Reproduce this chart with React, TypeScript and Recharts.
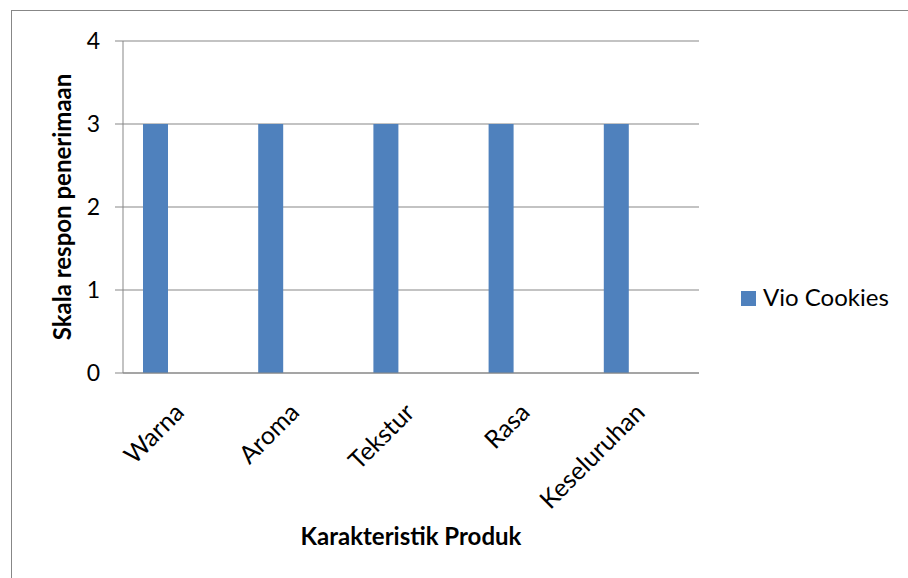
import React from "react";
import { BarChart, Bar, XAxis, YAxis, CartesianGrid, Customized } from "recharts";

// Acceptance scores per product characteristic
const categories = ["Warna", "Aroma", "Tekstur", "Rasa", "Keseluruhan"];
const vioCookies = [3, 3, 3, 3, 3];
// Second series slot of the clustered layout (no values)
const emptySeries: (number | null)[] = [null, null, null, null, null];
const yTicks = [0, 1, 2, 3, 4];

const seriesName = "Vio Cookies";
const xTitle = "Karakteristik Produk";
const yTitle = "Skala respon penerimaan";

const data = categories.map((c, i) => ({
  name: c,
  vio: vioCookies[i],
  empty: emptySeries[i],
}));

const FONT = "Lato, 'Open Sans', sans-serif";
const GRAY = "#878787";
const BLUE = "#4F81BD";

const CategoryTick = (props: any) => {
  const { x, y, payload } = props;
  const ax = x + 5;
  const ay = y + 33;
  return (
    <text
      x={ax}
      y={ay}
      transform={`rotate(-45 ${ax} ${ay})`}
      textAnchor="end"
      fontFamily={FONT}
      fontSize={25}
      fill="#000"
    >
      {payload.value}
    </text>
  );
};

const ValueTick = (props: any) => {
  const { x, y, payload } = props;
  return (
    <text
      x={x - 13}
      y={y + 8}
      textAnchor="end"
      fontFamily={FONT}
      fontSize={23}
      fill="#000"
    >
      {payload.value}
    </text>
  );
};

// Outer frame, axis titles and the series key
const Frame = () => (
  <g>
    <rect x={11.5} y={10.5} width={900} height={570} fill="none" stroke={GRAY} strokeWidth={1} />
    <text
      x={411}
      y={545}
      textAnchor="middle"
      fontFamily={FONT}
      fontWeight={700}
      fontSize={24}
      fill="#000"
    >
      {xTitle}
    </text>
    <text
      x={71}
      y={207}
      textAnchor="middle"
      transform="rotate(-90 71 207)"
      fontFamily={FONT}
      fontWeight={700}
      fontSize={24}
      fill="#000"
    >
      {yTitle}
    </text>
    <rect x={741} y={291} width={15} height={15} fill={BLUE} />
    <text x={763} y={306} fontFamily={FONT} fontSize={24} fill="#000">
      {seriesName}
    </text>
  </g>
);

export default function App() {
  return (
    <div style={{ position: "absolute", left: 0, top: 0, background: "#fff" }}>
      <BarChart
        width={908}
        height={578}
        data={data}
        margin={{ top: 41, right: 209, bottom: 0, left: 0 }}
        barSize={25}
        barGap={26}
      >
        <Customized component={Frame} />
        <CartesianGrid vertical={false} stroke={GRAY} strokeWidth={1} />
        <XAxis
          dataKey="name"
          height={205}
          axisLine={{ stroke: GRAY, strokeWidth: 1 }}
          tickLine={false}
          interval={0}
          tick={<CategoryTick />}
        />
        <YAxis
          width={123}
          domain={[0, 4]}
          ticks={yTicks}
          axisLine={{ stroke: GRAY, strokeWidth: 1 }}
          tickLine={{ stroke: GRAY, strokeWidth: 1 }}
          tickSize={8}
          tick={<ValueTick />}
        />
        <Bar dataKey="vio" name={seriesName} fill={BLUE} isAnimationActive={false} />
        <Bar dataKey="empty" legendType="none" fill={BLUE} isAnimationActive={false} />
      </BarChart>
    </div>
  );
}
